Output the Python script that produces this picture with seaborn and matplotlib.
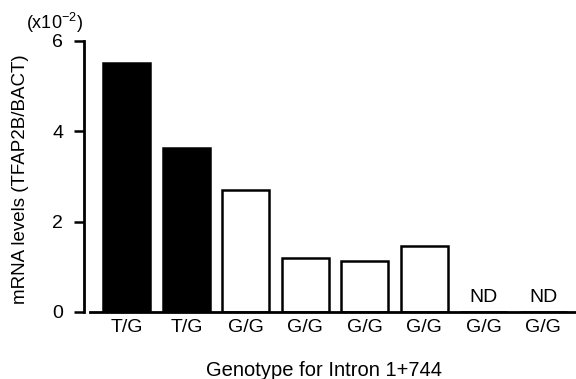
import pandas as pd
import seaborn as sns
import matplotlib.pyplot as plt

# Values (x10^-2)
samples = ["1", "2", "3", "4", "5", "6", "7", "8"]
genotypes = ["T/G", "T/G", "G/G", "G/G", "G/G", "G/G", "G/G", "G/G"]
mrna = [5.51, 3.64, 2.69, 1.20, 1.13, 1.47, 0.0, 0.0]
not_detected = [False, False, False, False, False, False, True, True]

df = pd.DataFrame({"sample": samples, "genotype": genotypes, "mrna": mrna})

sns.set_style("ticks")
plt.rcParams['font.family'] = ['Liberation Sans', 'DejaVu Sans']
plt.rcParams['mathtext.default'] = 'regular'
plt.rcParams['text.color'] = 'black'
plt.rcParams['axes.labelcolor'] = 'black'
plt.rcParams['xtick.color'] = 'black'
plt.rcParams['ytick.color'] = 'black'
plt.rcParams['axes.edgecolor'] = 'black'

fig = plt.figure(figsize=(5.76, 3.79), dpi=100)
ax = fig.add_axes([0.146, 0.177, 0.854, 0.715])

sns.barplot(data=df, x="sample", y="mrna", hue="genotype",
            palette={"T/G": "black", "G/G": "white"}, dodge=False,
            edgecolor="black", linewidth=1.8, width=0.79, legend=False, ax=ax)

for i, nd in enumerate(not_detected):
    if nd:
        ax.text(i, 0.12, "ND", ha="center", va="bottom", fontsize=14)

ax.set_xlim(-0.72, 7.55)
ax.set_ylim(0, 6)
ax.set_yticks([0, 2, 4, 6])
ax.set_xticks(range(len(samples)))
ax.set_xticklabels(genotypes)
ax.tick_params(axis="x", length=0, pad=5, labelsize=14)
ax.tick_params(axis="y", length=7, width=1.8, pad=8, labelsize=14)

ax.spines["top"].set_visible(False)
ax.spines["right"].set_visible(False)
ax.spines["left"].set_linewidth(2)
ax.spines["bottom"].set_linewidth(2)
ax.spines["bottom"].set_bounds(-0.62, 7.55)

ax.set_xlabel("Genotype for Intron 1+744", fontsize=14.5)
ax.set_ylabel("mRNA levels (TFAP2B/BACT)", fontsize=13.5)
ax.xaxis.set_label_coords(0.488, -0.18)
ax.yaxis.set_label_coords(-0.112, 0.49)

fig.text(0.095, 0.94, "(x10$^{-2}$)", ha="center", va="center", fontsize=13)

fig.savefig("out.png", dpi=100)
